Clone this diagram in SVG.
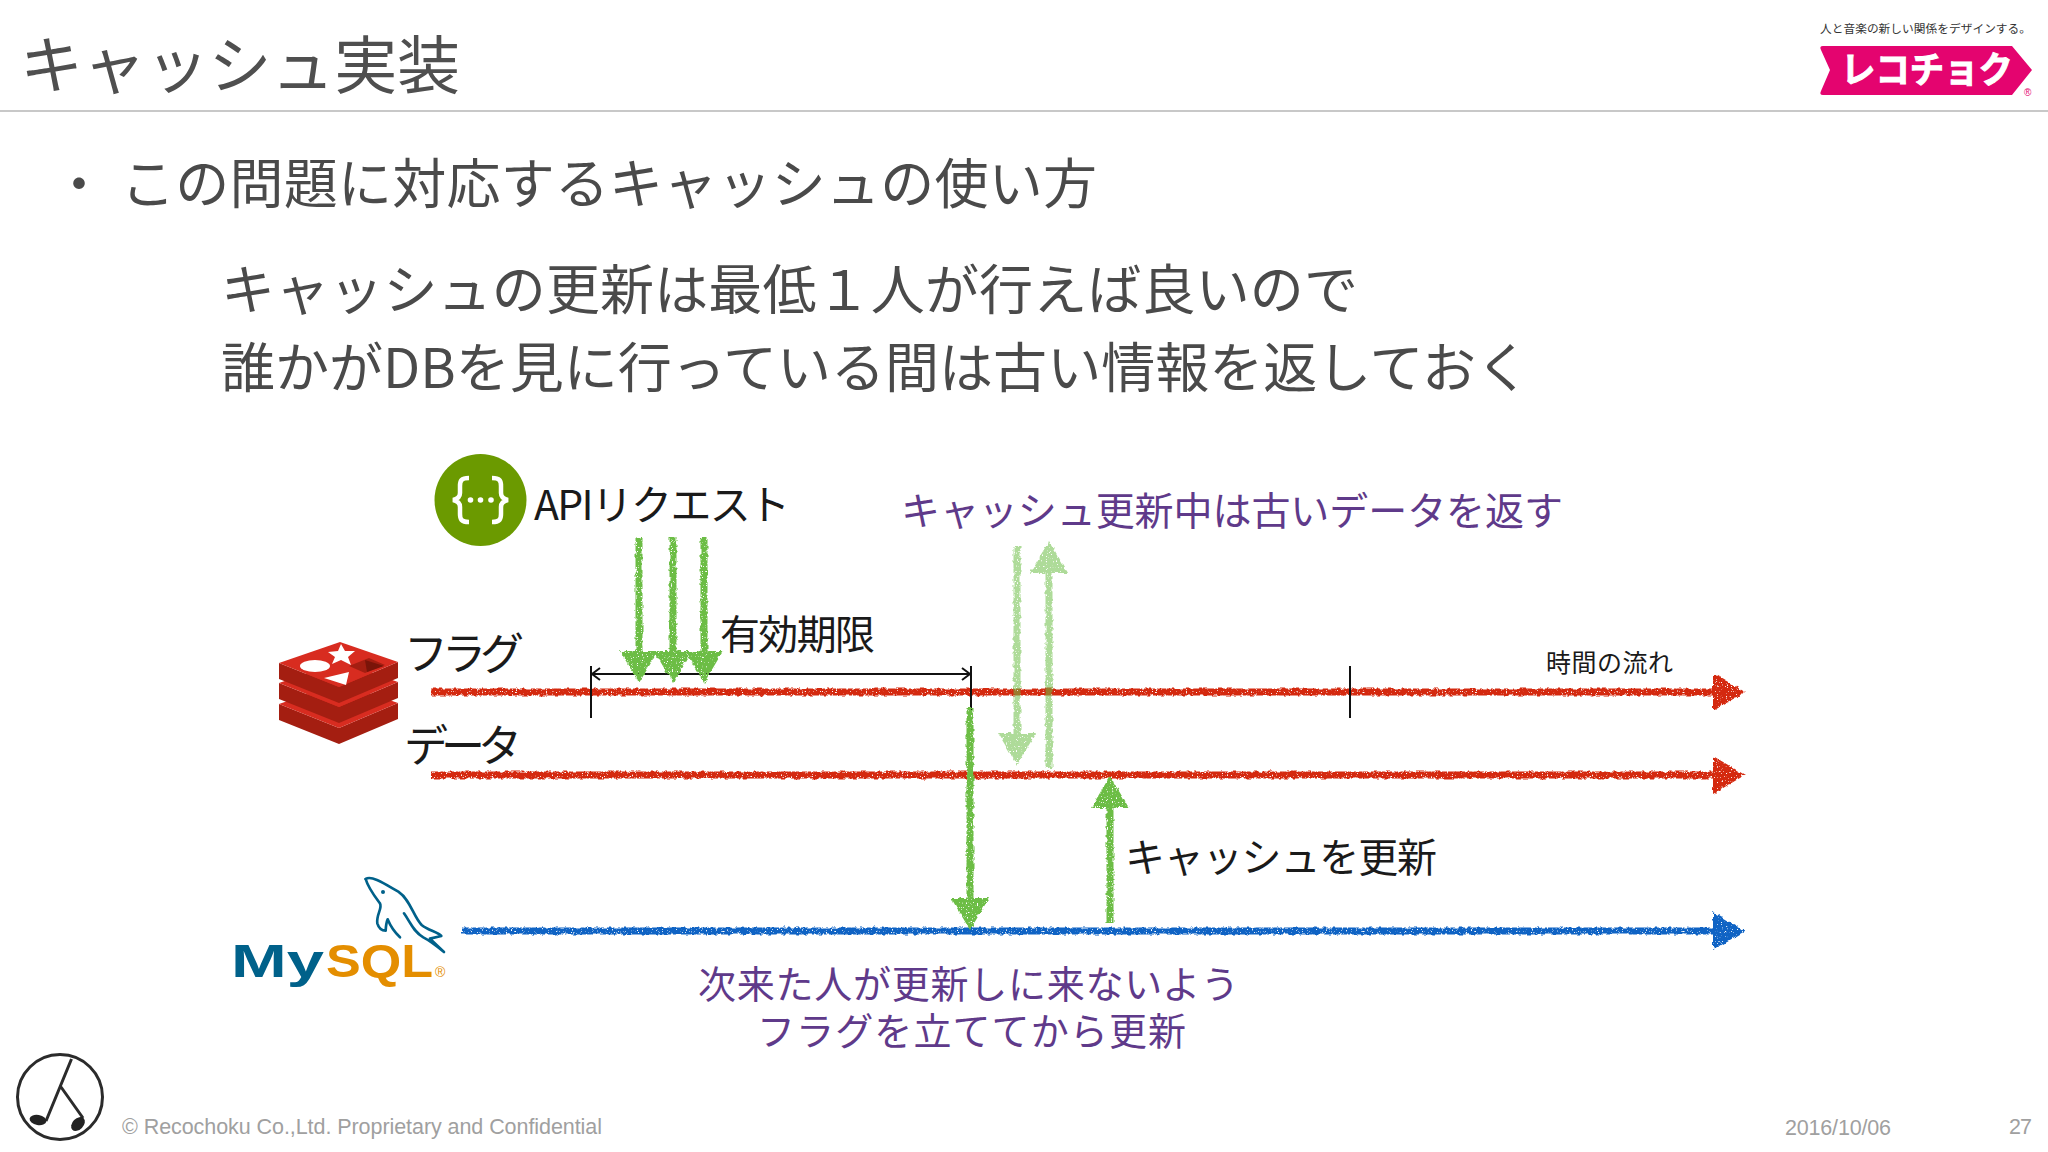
<svg xmlns="http://www.w3.org/2000/svg" width="2048" height="1152" viewBox="0 0 2048 1152">
<style>
text{font-family:"Noto Sans CJK JP","Noto Sans",sans-serif;font-weight:400;white-space:pre}
.h{fill:#4f4f4f}
.b{fill:#4a4a4a}
.k{fill:#1a1a1a}
.p{fill:#5f3a8a}
.f{font-family:"Liberation Sans",Arial,sans-serif;fill:#a0a0a0;font-size:21.5px;font-weight:400}
.rl{stroke:#d4290f;stroke-width:7;fill:none}
.bl{stroke:#0f63c4;stroke-width:7;fill:none}
.gl{stroke:#6cbd45;stroke-width:7;fill:none}
.ll{stroke:#6cbd45;stroke-width:7;fill:none;opacity:.55}
.tk{stroke:#111;stroke-width:2;fill:none}
.rd{fill:#a41e11}
.rt{fill:#d82c20}
</style>
<defs>
<filter id="crayon" filterUnits="userSpaceOnUse" x="0" y="0" width="2048" height="1152" color-interpolation-filters="sRGB">
<feTurbulence type="fractalNoise" baseFrequency="0.22" numOctaves="2" seed="4" result="n"/>
<feDisplacementMap in="SourceGraphic" in2="n" scale="4.5" xChannelSelector="R" yChannelSelector="G" result="d"/>
<feTurbulence type="fractalNoise" baseFrequency="0.8" numOctaves="1" seed="9" result="s"/>
<feColorMatrix in="s" type="matrix" values="0 0 0 0 0 0 0 0 0 0 0 0 0 0 0 0 0 0 9 -2.4" result="m"/>
<feComposite in="d" in2="m" operator="in"/>
</filter>
<marker id="hr" markerUnits="userSpaceOnUse" markerWidth="34" markerHeight="44" refX="1" refY="22" orient="auto"><path d="M0 3L32 22L0 41Z" fill="#d4290f"/></marker>
<marker id="hb" markerUnits="userSpaceOnUse" markerWidth="34" markerHeight="44" refX="1" refY="22" orient="auto"><path d="M0 3L32 22L0 41Z" fill="#0f63c4"/></marker>
<marker id="hg" markerUnits="userSpaceOnUse" markerWidth="34" markerHeight="44" refX="1" refY="22" orient="auto"><path d="M0 3L32 22L0 41Z" fill="#6cbd45"/></marker>
<marker id="dim" markerUnits="userSpaceOnUse" markerWidth="14" markerHeight="14" refX="11" refY="7" orient="auto-start-reverse"><path d="M3 1L11 7L3 13" fill="none" stroke="#111" stroke-width="2"/></marker>
<g id="rlayer">
<path class="rd" d="M279 663L339 687L398 662V678L339 703L279 679Z"/>
<path class="rt" d="M279 663L340 642L398 662L339 687Z"/>
</g>
</defs>
<rect width="2048" height="1152" fill="#fff"/>

<g id="header">
<text class="h" x="20" y="88" font-size="63" textLength="440">キャッシュ実装</text>
<line x1="0" y1="111" x2="2048" y2="111" stroke="#c8c8c8" stroke-width="2"/>
</g>

<g id="brand">
<text x="1820" y="33" font-size="11.7" fill="#333" textLength="211">人と音楽の新しい関係をデザインする。</text>
<path d="M1823 46H2012L2032 70L2012 95H1823Q1819 95 1821 91L1830 70L1821 50Q1819 46 1823 46Z" fill="#e4046f"/>
<text x="1841" y="83" font-size="36" style="font-weight:700" fill="#fff" stroke="#fff" stroke-width="1" textLength="172" lengthAdjust="spacingAndGlyphs">レコチョク</text>
<text x="2024" y="96" font-size="10" fill="#e4046f" style="font-family:'Liberation Sans'">®</text>
</g>

<g id="body">
<text class="b" x="52" y="204" font-size="54">・</text>
<text class="b" x="121" y="204" font-size="54" textLength="976">この問題に対応するキャッシュの使い方</text>
<text class="b" x="221" y="310" font-size="54" textLength="1137">キャッシュの更新は最低１人が行えば良いので</text>
<text class="b" x="221" y="388" font-size="54" textLength="1309">誰かがDBを見に行っている間は古い情報を返しておく</text>
</g>

<g id="connectors">
<g filter="url(#crayon)">
<line class="rl" x1="431" y1="692" x2="1714" y2="692" marker-end="url(#hr)"/>
<line class="rl" x1="431" y1="775" x2="1714" y2="775" marker-end="url(#hr)"/>
<line class="bl" x1="461" y1="931" x2="1714" y2="931" marker-end="url(#hb)"/>
</g>
<line class="tk" x1="592" y1="674" x2="970" y2="674" marker-start="url(#dim)" marker-end="url(#dim)"/>
<line class="tk" x1="591" y1="666" x2="591" y2="718"/>
<line class="tk" x1="971" y1="666" x2="971" y2="710"/>
<line class="tk" x1="1350" y1="666" x2="1350" y2="718"/>
<g filter="url(#crayon)">
<line class="gl" x1="639" y1="537" x2="639" y2="652" marker-end="url(#hg)"/>
<line class="gl" x1="673" y1="537" x2="673" y2="652" marker-end="url(#hg)"/>
<line class="gl" x1="704" y1="537" x2="704" y2="652" marker-end="url(#hg)"/>
<line class="gl" x1="970" y1="708" x2="970" y2="899" marker-end="url(#hg)"/>
<line class="gl" x1="1110" y1="923" x2="1110" y2="807" marker-end="url(#hg)"/>
<line class="ll" x1="1017" y1="546" x2="1017" y2="734" marker-end="url(#hg)"/>
<line class="ll" x1="1049" y1="768" x2="1049" y2="572" marker-end="url(#hg)"/>
</g>
</g>

<g id="api">
<circle cx="480.500" cy="500" r="46" fill="#6b9a00"/>
<path d="M469 478c-8 0-9 3-9 8v7c0 4-2 6-7 7c5 1 7 3 7 7v7c0 5 1 8 9 8M492 478c8 0 9 3 9 8v7c0 4 2 6 7 7c-5 1-7 3-7 7v7c0 5-1 8-9 8" fill="none" stroke="#fff" stroke-width="4.500"/>
<circle cx="470.500" cy="500" r="2.800" fill="#fff"/><circle cx="480.500" cy="500" r="2.800" fill="#fff"/><circle cx="491" cy="500" r="2.800" fill="#fff"/>
<text class="k" x="534" y="520" font-size="41" textLength="256">APIリクエスト</text>
</g>

<g id="redis">
<use href="#rlayer" y="41"/>
<use href="#rlayer" y="20"/>
<use href="#rlayer"/>
<ellipse cx="315" cy="666" rx="15" ry="6" fill="#fff"/>
<path d="M341 644L345 651L355 651L348 657L351 665L341 660L332 664L335 657L328 652L338 651Z" fill="#fff"/>
<path d="M324 678L349 672L346 685Z" fill="#fff"/>
<path d="M349 666L369 658L385 665L365 673Z" class="rd"/>
<path d="M365 660L384 666L367 672Z" fill="#7a1409"/>
<text class="k" x="404" y="670" font-size="44" textLength="120">フラグ</text>
<text class="k" x="404" y="762" font-size="44" textLength="118">データ</text>
</g>

<g id="mysql">
<g transform="translate(200 860) scale(.3333)" fill="none" stroke="#00618a" stroke-width="8" stroke-linejoin="round" stroke-linecap="round">
<path d="M497 57C515 45 555 72 595 95C632 120 640 170 665 195C685 212 712 215 724 228L690 236L732 276C710 258 690 242 670 232C640 215 630 185 612 160"/>
<path d="M497 57C505 85 525 110 540 130C548 145 528 165 532 190C538 210 550 212 557 212C558 195 560 185 563 178C572 200 585 218 600 232"/>
</g>
<circle cx="383" cy="892" r="2" fill="#00618a"/>
<text x="231" y="977" font-size="46" textLength="93" lengthAdjust="spacingAndGlyphs" style="font-family:'Liberation Sans';font-weight:700" fill="#00618a">My</text>
<text x="326" y="977" font-size="46" textLength="107" lengthAdjust="spacingAndGlyphs" style="font-family:'Liberation Sans';font-weight:700" fill="#e48e00">SQL</text>
<text x="435" y="977" font-size="14" style="font-family:'Liberation Sans'" fill="#e48e00">®</text>
</g>

<g id="labels">
<text class="p" x="901" y="525" font-size="39" textLength="662">キャッシュ更新中は古いデータを返す</text>
<text class="k" x="720" y="649" font-size="40" textLength="155">有効期限</text>
<text class="k" x="1546" y="672" font-size="25" textLength="127">時間の流れ</text>
<text class="k" x="1125" y="872" font-size="40" textLength="312">キャッシュを更新</text>
<text class="p" x="698" y="998" font-size="38" textLength="541">次来た人が更新しに来ないよう</text>
<text class="p" x="757" y="1045" font-size="38" textLength="429">フラグを立ててから更新</text>
</g>

<g id="footer">
<g fill="none" stroke="#2b2b2b" stroke-width="3">
<circle cx="60" cy="1097" r="42.500"/>
<path d="M71.500 1059L46 1121M61 1087L83 1118"/>
</g>
<ellipse cx="38" cy="1120" rx="8.500" ry="5" fill="#222" transform="rotate(10 38 1120)"/>
<ellipse cx="78" cy="1124" rx="8" ry="5.500" fill="#222" transform="rotate(-45 78 1124)"/>
<text class="f" x="122" y="1134" textLength="480">© Recochoku Co.,Ltd. Proprietary and Confidential</text>
<text class="f" x="1785" y="1135" textLength="106">2016/10/06</text>
<text class="f" x="2009" y="1134" textLength="23">27</text>
</g>
</svg>
